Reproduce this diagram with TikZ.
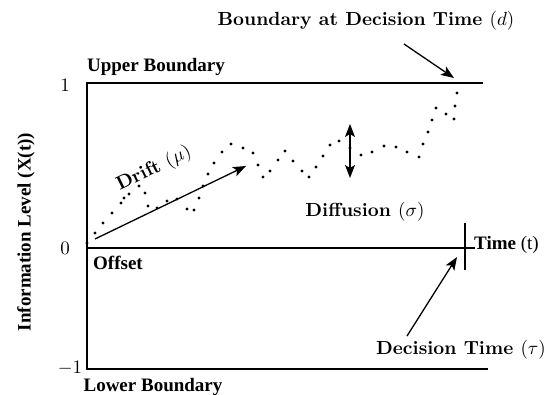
\documentclass[tikz,border=0pt]{standalone}
\usepackage{graphicx}
\usepackage{fontspec}
\newfontfamily\tnr{Liberation Serif}
\newfontfamily\lmbx{lmroman10-bold.otf}
\newcommand\bigmth[1]{\scalebox{1.9}{\normalsize\normalfont$#1$}}
\usetikzlibrary{arrows.meta}
\begin{document}
\begin{tikzpicture}[x=1pt,y=-1pt,
  axisline/.style={line width=1.4pt},
  ptr/.style={line width=1.3pt,-{Stealth[length=13pt,width=10pt,inset=3pt]}},
  dbl/.style={line width=1.3pt,{Stealth[length=13pt,width=10pt,inset=3pt]}-{Stealth[length=13pt,width=10pt,inset=3pt]}},
  tlab/.style={font=\fontsize{19}{22}\selectfont\tnr\bfseries,inner sep=0pt},
  clab/.style={font=\fontsize{19}{22}\selectfont\lmbx,inner sep=0pt},
  nlab/.style={inner sep=0pt},
  dot/.style={fill=black}]
\useasboundingbox (0,0) rectangle (551,395);
% axes
\coordinate (o) at (87,248);
\coordinate (top) at (87,83);
\coordinate (bot) at (87,369);
\coordinate (ue) at (483,83);
\coordinate (ze) at (475,248);
\coordinate (le) at (488,369);
\coordinate (tk1) at (465,223);
\coordinate (tk2) at (465,270);
\draw[axisline] (ue) -- (top) -- (bot) -- (le);
\draw[axisline] (o) -- (ze);
\draw[line width=1.3pt] (tk1) -- (tk2);
% tick labels
\node[nlab] (one) at (65,85) {\bigmth{1}};
\node[nlab] (zero) at (65,248) {\bigmth{0}};
\node[nlab] (mone) at (70,368) {\bigmth{-1}};
% text labels
\node[tlab] (ub) at (156,67) {Upper Boundary};
\node[tlab] (lb) at (153,387) {Lower Boundary};
\node[tlab] (off) at (118,263) {Offset};
\node[tlab,anchor=west] (time) at (474,245) {Time {\fontsize{19}{22}\selectfont\tnr\mdseries (t)}};
\node[tlab,rotate=90] (ylab) at (26,232) {Information Level (X(t))};
\node[clab] (bd) at (366,21) {Boundary at Decision Time \bigmth{(d)}};
\node[clab] (dt) at (461,350) {Decision Time \bigmth{(\tau)}};
\node[clab] (dif) at (365,212) {Diffusion \bigmth{(\sigma)}};
\node[clab,rotate=26] (dr) at (154,169) {Drift \bigmth{(\mu)}};
% arrows
\coordinate (bds) at (404,44);
\coordinate (bdt) at (454,78);
\draw[ptr] (bds) -- (bdt);
\coordinate (dts) at (407,336);
\coordinate (dtt) at (457,257);
\draw[ptr] (dts) -- (dtt);
\coordinate (dfa) at (350,124);
\coordinate (dfb) at (350,178);
\draw[dbl] (dfa) -- (dfb);
\coordinate (drs) at (95,239);
\coordinate (drt) at (246,166);
\draw[ptr] (drs) -- (drt);
% sample path dots
\foreach \px/\py in {87/243,95/233,103/223,112/213,121/203,124/198,129/194,139/186,145/193,148/206,157/208,167/201,177/199,187/209,194/210,199/198,203/186,208/174,214/163,222/152,231/144,243/148,253/153,258/165,263/177,270/171,278/160,285/151,293/161,302/171,309/177,316/167,323/156,330/145,339/141,350/148,361/155,372/152,384/146,396/147,407/152,419/157,423/144,428/132,432/120,436/108,446/114,454/119,455/106,457/93}
  \fill[dot] (\px,\py) circle (1.7pt);
\end{tikzpicture}
\end{document}
